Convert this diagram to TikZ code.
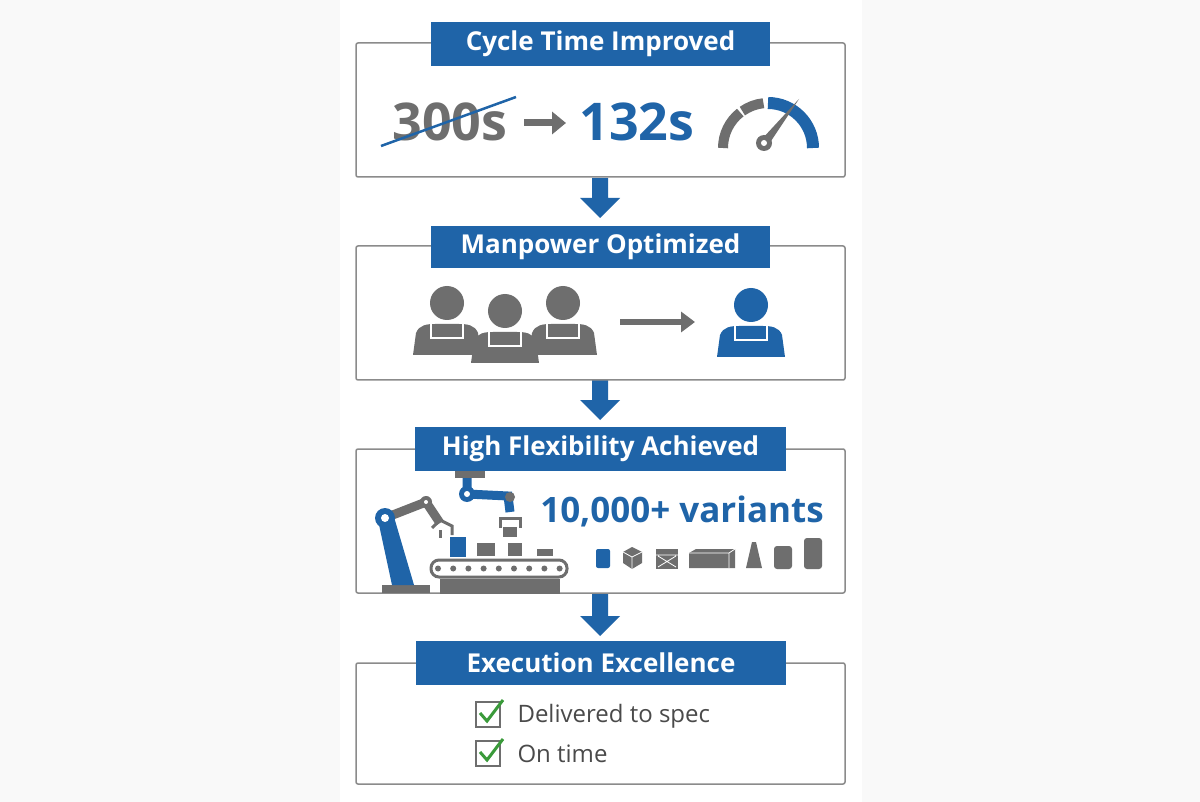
\documentclass[tikz,border=0pt]{standalone}
\usepackage{fontspec}
\setmainfont{Open Sans}
\usetikzlibrary{arrows.meta}
\definecolor{bl}{HTML}{1F64A8}
\definecolor{gr}{HTML}{6E6E6E}
\definecolor{tx}{HTML}{4A4A4A}
\definecolor{ck}{HTML}{3A9A3A}
\tikzset{
 panel/.style={draw=gr!80,line width=1.5pt,fill=white,rounded corners=2pt},
 hdr/.style={fill=bl,draw=none,text=white,font=\fontsize{26}{28}\selectfont\bfseries,inner sep=0pt},
 flow/.style={fill=bl,draw=none},
 chk/.style={draw=gr,line width=1.5pt,fill=white},
}
\newcommand{\person}[3]{% x, y(head), color
 \fill[#3] (#1,#2) circle (17);
 \fill[#3] (#1-34,#2+52) -- (#1-31,#2+30) .. controls (#1-28,#2+22) and (#1-20,#2+21) .. (#1-12,#2+21) -- (#1+12,#2+21) .. controls (#1+20,#2+21) and (#1+28,#2+22) .. (#1+31,#2+30) -- (#1+34,#2+52) -- cycle;
 \fill[white] (#1-17,#2+21) rectangle (#1-15,#2+36);
 \fill[white] (#1+15,#2+21) rectangle (#1+17,#2+36);
 \fill[white] (#1-15,#2+34) rectangle (#1+15,#2+36);
}
\begin{document}
\begin{tikzpicture}[x=1pt,y=-1pt]
\fill[gray!5] (0,0) rectangle (1200,802);
\fill[white] (340,0) rectangle (862,802);
% down arrows
\foreach \a/\b in {178/218,380/420,594/636}{
 \fill[flow] (592,\a) -- (608,\a) -- (608,\b-20) -- (620,\b-20) -- (600,\b) -- (580,\b-20) -- (592,\b-20) -- cycle;}
% panels
\draw[panel] (356,43) rectangle (845,177);
\draw[panel] (356,246) rectangle (845,380);
\draw[panel] (356,449) rectangle (845,593);
\draw[panel] (356,663) rectangle (845,784);
\node[hdr,minimum width=339pt,minimum height=44pt] (h1) at (600.5,44) {Cycle Time Improved};
\node[hdr,minimum width=339pt,minimum height=42pt] (h2) at (600.5,247) {Manpower Optimized};
\node[hdr,minimum width=371pt,minimum height=44pt] (h3) at (600.5,449) {High Flexibility Achieved};
\node[hdr,minimum width=370pt,minimum height=44pt] (h4) at (601,663) {Execution Excellence};
% panel 1
\node[text=gr,font=\fontsize{52}{56}\selectfont\bfseries] (old) at (450,122) {300s};
\draw[bl,line width=2.5pt] (381,146) -- (516,97);
\draw[gr,line width=7pt,-{Triangle[length=14pt,width=22pt]}] (524,123) -- (566,123);
\node[text=bl,font=\fontsize{52}{56}\selectfont\bfseries] (new) at (637,122) {132s};
\draw[gr,line width=10pt] (723,148) arc (-180:-128:45);
\draw[gr,line width=10pt] (768-45*0.57,148-45*0.82) arc (-125:-96:45);
\draw[bl,line width=12pt] (768,148-45) arc (-90:0:45);
\fill[gr] (762,139) -- (799,99) -- (767,147) -- cycle;
\fill[gr] (764,143) circle (8);
\fill[white] (764,143) circle (3);
% panel 2
\person{447}{303}{gr}
\person{563}{303}{gr}
\person{505}{311}{gr}
\draw[gr,line width=6pt,-{Triangle[length=14pt,width=20pt]}] (620,322) -- (695,322);
\person{751}{305}{bl}
% panel 3
\node[text=bl,font=\fontsize{35}{38}\selectfont\bfseries] (var) at (682,511) {10,000+ variants};
% robot 1
\fill[gr] (382,585) rectangle (430,593);
\fill[bl] (392,585) -- (378,520) -- (394,517) -- (414,585) -- cycle;
\draw[gr,line width=9pt] (385,518) -- (426,502) -- (440,523);
\fill[bl] (385,518) circle (10); \fill[white] (385,518) circle (4);
\fill[gr] (426,502) circle (6); \fill[white] (426,502) circle (2);
\draw[gr,line width=3pt] (432,528) -- (440,520) -- (452,526) -- (452,535);
\draw[gr,line width=3pt] (440,530) -- (440,538);
% robot 2
\fill[gr] (455,471) rectangle (485,478);
\draw[bl,line width=9pt] (467,478) -- (467,494) -- (508,496) -- (510,512);
\fill[bl] (467,494) circle (8); \fill[white] (467,494) circle (3);
\fill[gr] (510,497) circle (5);
\draw[gr,line width=3pt] (500,528) -- (500,518) -- (520,518) -- (520,528);
\fill[gr] (503,527) rectangle (517,537);
% conveyor
\draw[gr,line width=3pt,rounded corners=8pt] (431,560) rectangle (567,577);
\foreach \i in {0,...,8} \fill[gr] (438+\i*15.2,568.5) circle (3);
\fill[gr] (440,579) rectangle (560,594);
\fill[bl] (450,537) rectangle (466,557);
\fill[gr] (477,543) rectangle (495,556);
\fill[gr] (508,543) rectangle (522,556);
\fill[gr] (537,549) rectangle (553,556);
% variant shapes
\fill[bl,rounded corners=2pt] (596,549) rectangle (610,568);
\fill[gr] (623,552) -- (632,547) -- (642,552) -- (642,563) -- (632,569) -- (623,563) -- cycle;
\draw[white,line width=0.8pt] (623,552) -- (632,557) -- (642,552) (632,557) -- (632,569);
\fill[gr] (656,549) rectangle (678,569);
\draw[white,line width=0.8pt] (658,556) -- (676,567) (676,556) -- (658,567) (656,555) -- (678,555);
\fill[gr] (689,553) -- (696,549) -- (735,549) -- (735,568) -- (689,568) -- cycle;
\draw[white,line width=0.8pt] (689,553) -- (729,553) -- (735,549) (729,553) -- (729,568);
\fill[gr] (746,568) -- (752,542) -- (756,542) -- (762,568) -- cycle;
\fill[gr,rounded corners=3pt] (774,546) rectangle (792,569);
\fill[gr,rounded corners=3pt] (804,538) rectangle (822,569);
% panel 4
\draw[chk] (476,702) rectangle (500,727);
\draw[ck,line width=3pt] (480,713) -- (487,721) -- (503,700);
\node[anchor=west,text=tx,font=\fontsize{24}{28}\selectfont] (t1) at (514,716) {Delivered to spec};
\draw[chk] (476,741) rectangle (500,766);
\draw[ck,line width=3pt] (480,752) -- (487,760) -- (503,739);
\node[anchor=west,text=tx,font=\fontsize{24}{28}\selectfont] (t2) at (514,754) {On time};
\end{tikzpicture}
\end{document}
